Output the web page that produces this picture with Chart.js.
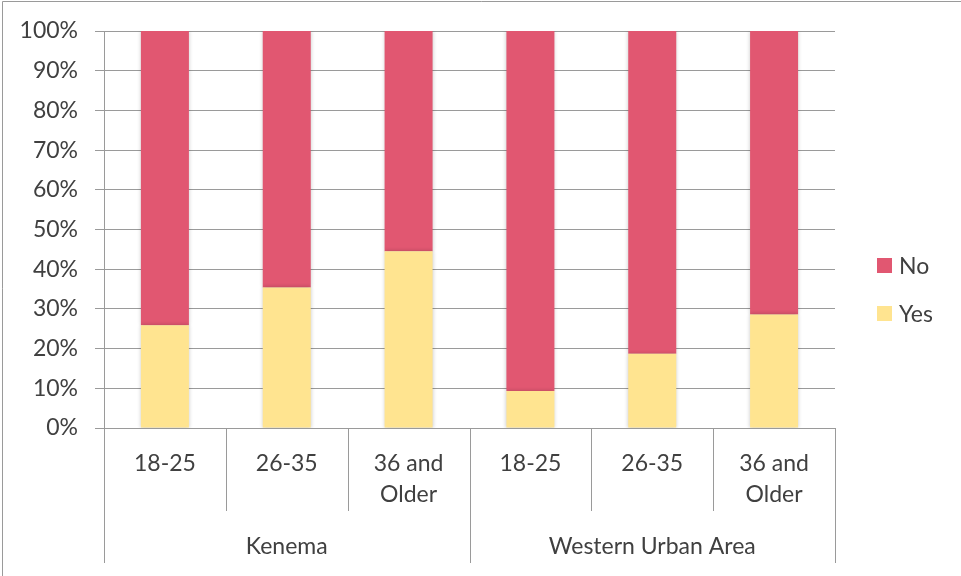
<!DOCTYPE html>
<html>
<head>
<meta charset="utf-8">
<script src="https://cdn.jsdelivr.net/npm/chart.js@4.4.1/dist/chart.umd.min.js"></script>
<style>
  html, body { margin: 0; padding: 0; background: #fff; }
  #wrap { width: 961px; height: 576px; position: relative; }
</style>
</head>
<body>
<div id="wrap"><canvas id="chart" width="961" height="576"></canvas></div>
<script>
"use strict";

// data (percent of respondents)
const ageLabels = [['18-25'], ['26-35'], ['36 and', 'Older'], ['18-25'], ['26-35'], ['36 and', 'Older']];
const regionOfBar = ['Kenema', 'Kenema', 'Kenema', 'Western Urban Area', 'Western Urban Area', 'Western Urban Area'];
const yesValues = [25.9, 35.4, 44.5, 9.3, 18.7, 28.6];
const noValues = [74.1, 64.6, 55.5, 90.7, 81.3, 71.4];
const yTicks = [0, 10, 20, 30, 40, 50, 60, 70, 80, 90, 100];

const textColor = '#404040';
const lineColor = '#9a9a9a';
const fontFamily = 'Lato, "Open Sans", sans-serif';

// separators + region labels under the x axis, frame, and legend
const decorations = {
    id: 'decorations',
    beforeDatasetsDraw(chart) {
        const ctx = chart.ctx;
        ctx.save();
        ctx.shadowColor = 'rgba(0,0,0,0.22)';
        ctx.shadowBlur = 4;
    },
    afterDatasetsDraw(chart) {
        chart.ctx.restore();
    },
    afterDraw(chart) {
        const ctx = chart.ctx;
        const area = chart.chartArea;
        const n = ageLabels.length;
        const step = (area.right - area.left) / n;

        ctx.save();
        ctx.strokeStyle = lineColor;
        ctx.lineWidth = 1;

        // frame
        ctx.beginPath();
        ctx.moveTo(2.5, 576);
        ctx.lineTo(2.5, 1.5);
        ctx.lineTo(961, 1.5);
        ctx.stroke();

        // category separators
        for (let i = 0; i <= n; i++) {
            const x = Math.round(area.left + i * step) + 0.5;
            const groupEdge = i === 0 || i === n || regionOfBar[i] !== regionOfBar[i - 1];
            ctx.beginPath();
            ctx.moveTo(x, area.bottom);
            ctx.lineTo(x, area.bottom + (groupEdge ? 135 : 83));
            ctx.stroke();
        }

        // region labels
        ctx.fillStyle = textColor;
        ctx.font = '23px ' + fontFamily;
        ctx.textAlign = 'center';
        ctx.textBaseline = 'middle';
        let start = 0;
        for (let i = 1; i <= n; i++) {
            if (i === n || regionOfBar[i] !== regionOfBar[start]) {
                const cx = area.left + (start + i) / 2 * step;
                ctx.fillText(regionOfBar[start], cx, area.bottom + 119);
                start = i;
            }
        }

        // legend (No above Yes)
        const items = chart.data.datasets.slice().reverse();
        ctx.textAlign = 'left';
        items.forEach((ds, k) => {
            const cy = 265.5 + k * 48;
            ctx.fillStyle = ds.backgroundColor;
            ctx.fillRect(877, cy - 7.5, 15, 15);
            ctx.fillStyle = textColor;
            ctx.fillText(ds.label, 899, cy + 1);
        });
        ctx.restore();
    }
};

const ctx = document.getElementById('chart').getContext('2d');

new Chart(ctx, {
    type: 'bar',
    data: {
        labels: ageLabels,
        datasets: [{
            label: 'Yes',
            data: yesValues,
            backgroundColor: '#ffe490',
        }, {
            label: 'No',
            data: noValues,
            backgroundColor: '#e15771',
        }]
    },
    options: {
        responsive: false,
        animation: false,
        devicePixelRatio: 1,
        layout: {
            padding: { top: 31, right: 126, left: 0, bottom: 0 }
        },
        datasets: {
            bar: {
                categoryPercentage: 1,
                barPercentage: 0.394,
                borderWidth: 0,
            }
        },
        plugins: {
            legend: { display: false },
            tooltip: { enabled: false },
        },
        scales: {
            x: {
                stacked: true,
                grid: { display: false },
                border: { display: true, color: lineColor },
                ticks: {
                    color: textColor,
                    font: { family: fontFamily, size: 23, lineHeight: 1.35 },
                    padding: 12,
                    maxRotation: 0,
                    autoSkip: false,
                },
                afterFit(scale) { scale.height = 148; },
            },
            y: {
                stacked: true,
                min: 0,
                max: 100,
                grid: {
                    color: lineColor,
                    tickLength: 9,
                },
                border: { display: true, color: lineColor },
                afterBuildTicks(scale) {
                    scale.ticks = yTicks.map(v => ({ value: v }));
                },
                ticks: {
                    color: textColor,
                    font: { family: fontFamily, size: 23 },
                    padding: 17,
                    callback: (v) => v + '%',
                },
                afterFit(scale) { scale.width = 104; },
            }
        }
    },
    plugins: [decorations]
});
</script>
</body>
</html>
